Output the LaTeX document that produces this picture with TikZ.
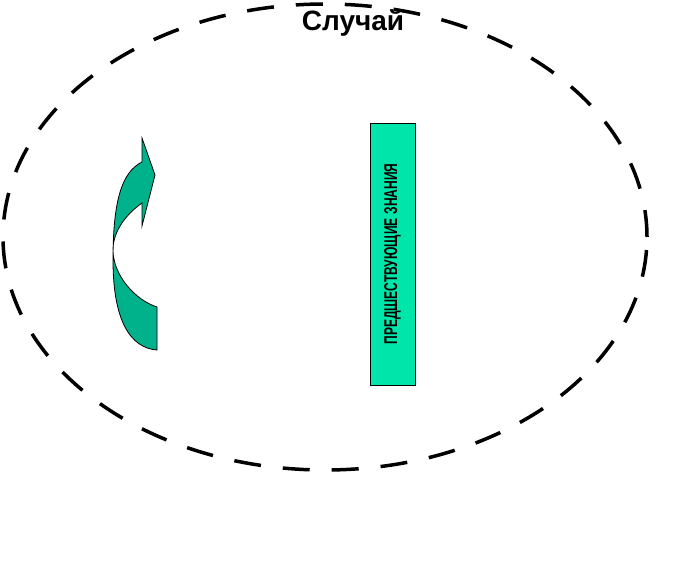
\documentclass[tikz,border=0pt]{standalone}
\usepackage{fontspec}
\setmainfont{Liberation Sans}
\usetikzlibrary{shapes.geometric}

\definecolor{boxgreen}{RGB}{0,230,170}
\definecolor{arrowgreen}{RGB}{0,178,140}

\tikzset{
  caseline/.style={draw=black, line width=3.5pt, dash pattern=on 27pt off 22pt},
  knowbox/.style={draw=black, line width=0.8pt, fill=boxgreen, inner sep=0pt,
    minimum width=45pt, minimum height=262pt},
  bentarrow/.style={draw=black, line width=0.8pt, fill=arrowgreen}
}

\begin{document}
\begin{tikzpicture}[x=1pt,y=-1pt]
\useasboundingbox (0,0) rectangle (677,567);
% dashed border of the case
\node[ellipse, caseline, minimum width=644pt, minimum height=466pt, inner sep=0pt] (case) at (325,237) {};
\node (title) at (353,23) {\fontsize{28}{30}\selectfont\bfseries Случай};
% box with rotated label
\node[knowbox] (knowledge) at (392.5,254)
  {\rotatebox{90}{\scalebox{0.65}[1]{\fontsize{18.5}{20}\selectfont\bfseries ПРЕДШЕСТВУЮЩИЕ\hspace{6pt}ЗНАНИЯ}}};
% curved arrow
\draw[bentarrow] (142,162) -- (142,138) -- (155,175) -- (142,226) -- (142,203)
  .. controls (125,215) and (113,232) .. (113,250)
  .. controls (113,275) and (135,300) .. (157,307)
  -- (157,350)
  .. controls (130,348) and (113,320) .. (113,260)
  .. controls (113,200) and (122,172) .. (142,162) -- cycle;
\end{tikzpicture}
\end{document}
